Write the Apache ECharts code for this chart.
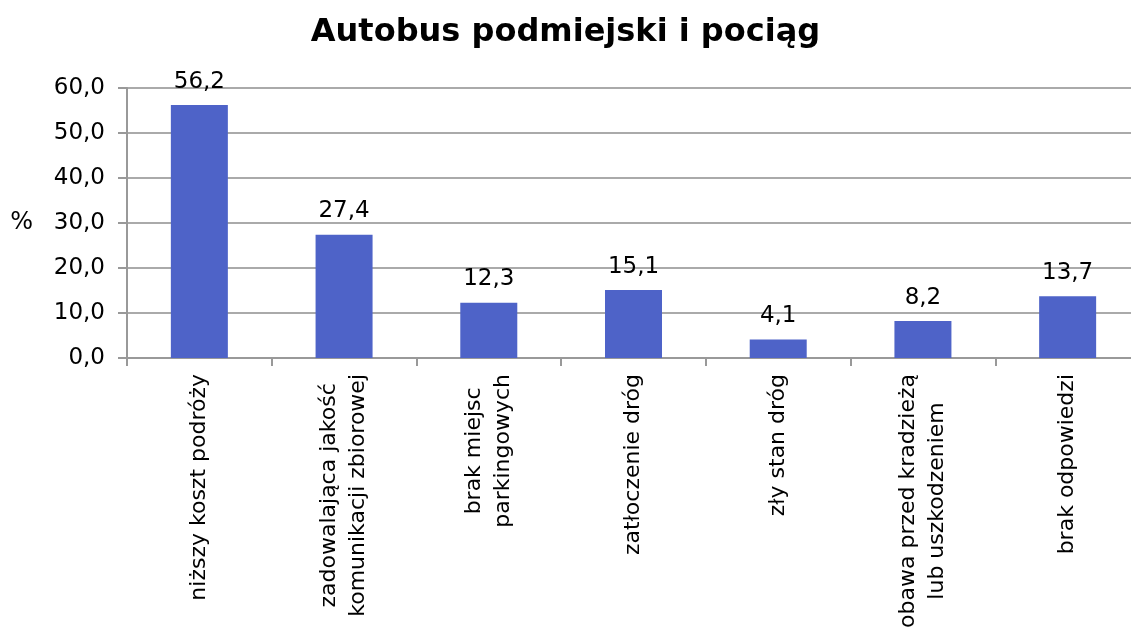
<!DOCTYPE html>
<html>
<head>
<meta charset="utf-8">
<script src="https://cdn.jsdelivr.net/npm/echarts@6/dist/echarts.min.js"></script>
<style>
  html, body { margin: 0; padding: 0; background: #fff; }
  #main { width: 1131px; height: 632px; }
</style>
</head>
<body>
<div id="main"></div>
<script type="text/javascript">
    // dane z wykresu
    var categories = [
        'niższy koszt podróży',
        'zadowalająca jakość\nkomunikacji zbiorowej',
        'brak miejsc\nparkingowych',
        'zatłoczenie dróg',
        'zły stan dróg',
        'obawa przed kradzieżą\nlub uszkodzeniem',
        'brak odpowiedzi'
    ];
    var values = [56.2, 27.4, 12.3, 15.1, 4.1, 8.2, 13.7];
    var yTicks = [0, 10, 20, 30, 40, 50, 60];

    var fontFamily = 'DejaVu Sans';

    function comma(v) {
        return v.toFixed(1).replace('.', ',');
    }

    var myChart = echarts.init(document.getElementById('main'));

    myChart.setOption({
        animation: false,
        title: {
            text: 'Autobus podmiejski i pociąg',
            left: 'center',
            top: 12,
            textStyle: {
                fontFamily: fontFamily,
                fontWeight: 'bold',
                fontSize: 32,
                color: '#000'
            }
        },
        grid: {
            left: 127,
            top: 88,
            width: 1013,
            height: 270,
            outerBoundsMode: 'none'
        },
        xAxis: {
            type: 'category',
            data: categories,
            axisLine: { lineStyle: { color: '#999', width: 2 } },
            axisTick: { show: true, length: 8, lineStyle: { color: '#999', width: 2 } },
            axisLabel: {
                rotate: 90,
                interval: 0,
                margin: 16,
                formatter: function (v) {
                    return v.split('\n').map(function (s) { return '{c|' + s + '}'; }).join('\n');
                },
                rich: {
                    c: {
                        fontFamily: fontFamily,
                        fontSize: 22,
                        lineHeight: 29,
                        color: '#000',
                        align: 'center'
                    }
                }
            }
        },
        yAxis: {
            type: 'value',
            min: yTicks[0],
            max: yTicks[yTicks.length - 1],
            interval: 10,
            name: '%',
            nameLocation: 'middle',
            nameRotate: 0,
            nameGap: 94,
            nameTextStyle: { fontFamily: fontFamily, fontSize: 24, color: '#000' },
            axisLine: { show: true, lineStyle: { color: '#999', width: 2 } },
            axisTick: { show: true, length: 9, lineStyle: { color: '#999', width: 2 } },
            splitLine: { show: true, lineStyle: { color: '#aaa', width: 2 } },
            axisLabel: {
                margin: 22,
                fontFamily: fontFamily,
                fontSize: 23,
                color: '#000',
                formatter: function (v) { return comma(v); }
            }
        },
        series: [{
            type: 'bar',
            data: values,
            barWidth: 57,
            itemStyle: { color: '#4E63C8' },
            label: {
                show: true,
                position: 'top',
                distance: 12,
                fontFamily: fontFamily,
                fontSize: 23,
                color: '#000',
                formatter: function (p) { return comma(p.value); }
            }
        }]
    });
</script>
</body>
</html>
